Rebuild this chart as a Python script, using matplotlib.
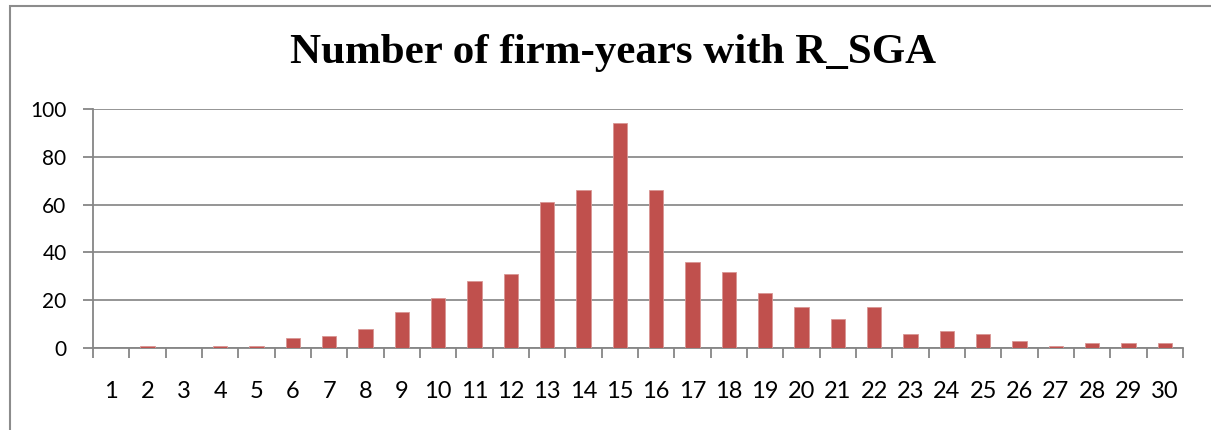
import numpy as np
from matplotlib import pyplot as plt
from matplotlib.patches import Rectangle

# data
years = np.arange(1, 31)
counts = [0, 1, 0, 1, 1, 4, 5, 8, 15, 21, 28, 31, 61, 66, 94,
          66, 36, 32, 23, 17, 12, 17, 6, 7, 6, 3, 1, 2, 2, 2]
yticks = [0, 20, 40, 60, 80, 100]

fig = plt.figure(figsize=(12.11, 4.30), dpi=100)
ax = fig.add_axes([93/1211, 82/430, 1090/1211, 239/430])

ax.bar(years, counts, width=0.4, color='#C0504D', edgecolor='#D99694', linewidth=0.6, zorder=3)

ax.set_xlim(0.5, 30.5)
ax.set_ylim(0, 100)
ax.set_yticks(yticks)
ax.set_xticks(years)
ax.set_xticks(np.arange(0.5, 31, 1), minor=True)
ax.tick_params(axis='x', which='major', length=0, pad=24, labelsize=17)
ax.tick_params(axis='x', which='minor', length=7, width=1.3, color='#868686', direction='out')
ax.tick_params(axis='y', length=7, width=1.3, color='#868686', labelsize=15, pad=12)
for lab in ax.get_xticklabels() + ax.get_yticklabels():
    lab.set_fontfamily('Lato')

ax.grid(axis='y', color='#8C8C8C', linewidth=1.3, zorder=0)
for s in ['top', 'right']:
    ax.spines[s].set_visible(False)
ax.spines['left'].set_color('#868686')
ax.spines['left'].set_linewidth(1.3)
ax.spines['bottom'].set_color('#868686')
ax.spines['bottom'].set_linewidth(1.3)

fig.text(0.506, 1 - 53/430, 'Number of firm-years with R_SGA', ha='center', va='center',
         fontsize=31, fontweight='bold', fontfamily='Liberation Serif')

# chart frame (only top and left edges are visible)
fig.patches.append(Rectangle((10/1211, -0.05), 1.1, 1.05 - 6/430, transform=fig.transFigure,
                             fill=False, edgecolor='#8C8C8C', linewidth=1.5))

fig.savefig('out.png', dpi=100)
